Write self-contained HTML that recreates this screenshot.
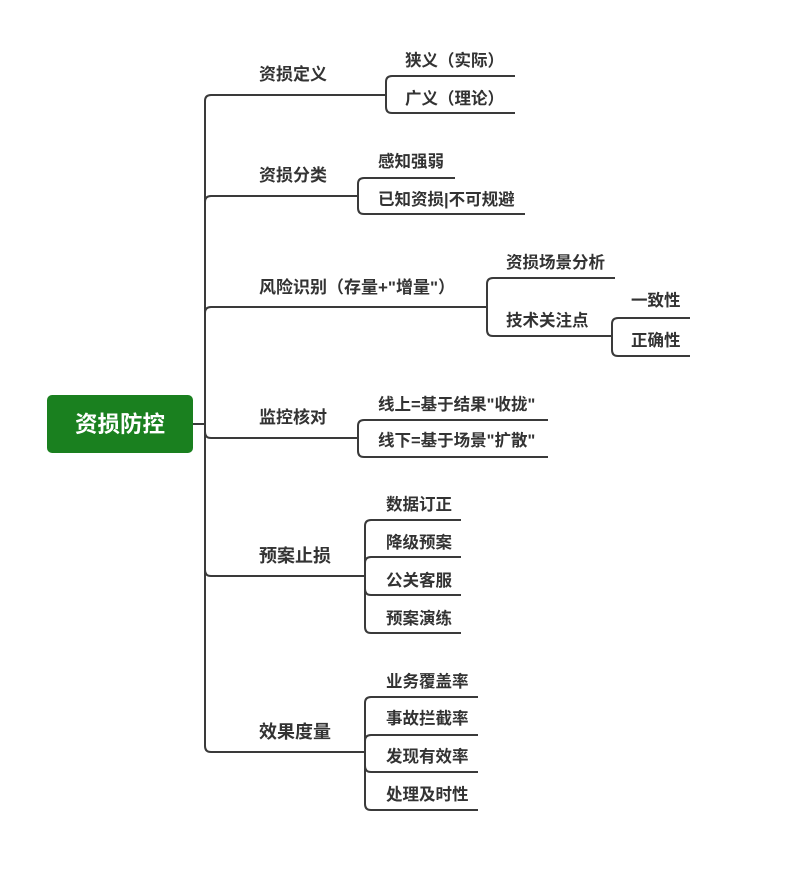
<!DOCTYPE html>
<html><head><meta charset="utf-8"><style>
html,body{margin:0;padding:0;background:#fff;}
svg{display:block}
text{font-family:"Liberation Sans","Noto Sans CJK SC",sans-serif;font-weight:bold;fill:#333;}
</style></head><body>
<svg width="792" height="893" viewBox="0 0 792 893" xmlns="http://www.w3.org/2000/svg">
<g fill="none" stroke="#3a3a3a" stroke-width="2">
<path d="M193 424 H205"/>
<path d="M205 424 V101 Q205 95 211 95 H386"/>
<path d="M205 424 V202 Q205 196 211 196 H358"/>
<path d="M205 424 V313 Q205 307 211 307 H487"/>
<path d="M205 424 V432 Q205 438 211 438 H358"/>
<path d="M205 424 V570 Q205 576 211 576 H365"/>
<path d="M205 424 V746 Q205 752 211 752 H365"/>
<path d="M386 95 V82 Q386 76 392 76 H515"/>
<path d="M386 95 V107 Q386 113 392 113 H515"/>
<path d="M358 196 V184 Q358 178 364 178 H455"/>
<path d="M358 196 V208 Q358 214 364 214 H525"/>
<path d="M487 307 V284 Q487 278 493 278 H615"/>
<path d="M487 307 V330 Q487 336 493 336 H612"/>
<path d="M612 336 V324 Q612 318 618 318 H690"/>
<path d="M612 336 V350 Q612 356 618 356 H690"/>
<path d="M358 438 V426 Q358 420 364 420 H548"/>
<path d="M358 438 V451 Q358 457 364 457 H548"/>
<path d="M365 576 V526 Q365 520 371 520 H461"/>
<path d="M365 576 V563 Q365 557 371 557 H461"/>
<path d="M365 576 V589 Q365 595 371 595 H461"/>
<path d="M365 576 V627 Q365 633 371 633 H461"/>
<path d="M365 752 V703 Q365 697 371 697 H478"/>
<path d="M365 752 V741 Q365 735 371 735 H478"/>
<path d="M365 752 V766 Q365 772 371 772 H478"/>
<path d="M365 752 V804 Q365 810 371 810 H478"/>
</g>
<rect x="47" y="395" width="146" height="58" rx="5" fill="#1a801f"/>
<text x="120" y="432" text-anchor="middle" font-size="22.5" style="fill:#fff">资损防控</text>
<g font-size="16.5">
<text x="259" y="80" font-size="17">资损定义</text>
<text x="259" y="181" font-size="17">资损分类</text>
<text x="259" y="293" font-size="17">风险识别（存量+"增量"）</text>
<text x="259" y="423" font-size="17">监控核对</text>
<text x="259" y="562" font-size="18">预案止损</text>
<text x="259" y="738" font-size="18">效果度量</text>
<text x="405" y="66">狭义（实际）</text>
<text x="405" y="104">广义（理论）</text>
<text x="378" y="167">感知强弱</text>
<text x="378" y="205">已知资损|不可规避</text>
<text x="506" y="268">资损场景分析</text>
<text x="506" y="326">技术关注点</text>
<text x="631" y="306">一致性</text>
<text x="631" y="346">正确性</text>
<text x="378" y="410">线上=基于结果"收拢"</text>
<text x="378" y="446">线下=基于场景"扩散"</text>
<text x="386" y="510">数据订正</text>
<text x="386" y="548">降级预案</text>
<text x="386" y="586">公关客服</text>
<text x="386" y="624">预案演练</text>
<text x="386" y="687">业务覆盖率</text>
<text x="386" y="724">事故拦截率</text>
<text x="386" y="762">发现有效率</text>
<text x="386" y="800">处理及时性</text>
</g>
</svg>
</body></html>
